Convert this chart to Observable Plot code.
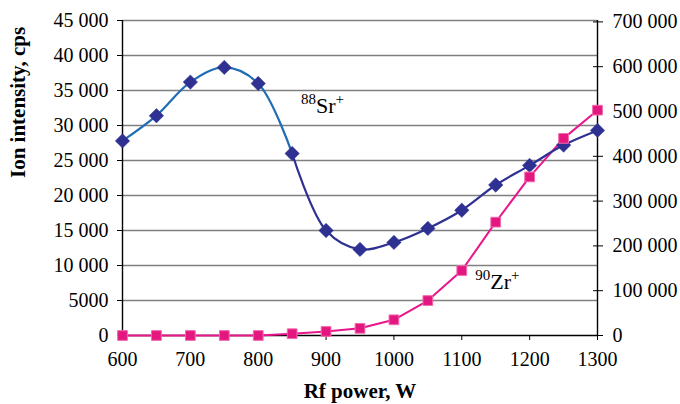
<!DOCTYPE html>
<html>
<head>
<meta charset="utf-8">
<script src="https://cdn.jsdelivr.net/npm/d3@7"></script>
<script src="https://cdn.jsdelivr.net/npm/@observablehq/plot@0.6"></script>
<style>
  html, body { margin: 0; padding: 0; background: #fff; }
  #chart { width: 680px; height: 404px; }
</style>
</head>
<body>
<div id="chart"></div>
<script>
// ---- data ----
const power = [600, 650, 700, 750, 800, 850, 900, 950, 1000, 1050, 1100, 1150, 1200, 1250, 1300];
const sr88 = [27800, 31400, 36200, 38300, 36000, 26000, 15000, 12300, 13300, 15300, 17900, 21500, 24300, 27200, 29300];
const zr90 = [0, 0, 0, 0, 0, 4000, 9000, 16000, 35000, 78000, 145000, 253000, 354000, 440000, 503000];
const xTicks = [600, 700, 800, 900, 1000, 1100, 1200, 1300];
const leftTicks = [0, 5000, 10000, 15000, 20000, 25000, 30000, 35000, 40000, 45000];
const rightTicks = [0, 100000, 200000, 300000, 400000, 500000, 600000, 700000];
const srLabel = {x: 863, y: 32800, sup: "88", main: "Sr", ion: "+"};
const zrLabel = {x: 1120, y: 7600, sup: "90", main: "Zr", ion: "+"};

// right axis (Zr) mapped onto left-axis units
const k = 0.064;
const fmt = v => v >= 10000 ? d3.format(",")(v).replace(/,/g, " ") : String(v);

const sr = power.map((p, i) => ({p, v: sr88[i]}));
const zr = power.map((p, i) => ({p, v: zr90[i] * k}));
const srA = sr.filter(d => d.p <= 850);
const srB = sr.filter(d => d.p >= 850);

const font = "Liberation Serif, Times New Roman, serif";

const chart = Plot.plot({
  width: 680,
  height: 404,
  marginLeft: 122,
  marginRight: 83,
  marginTop: 20,
  marginBottom: 69,
  style: {fontFamily: font, fontSize: "20px", color: "#000", background: "#fff"},
  x: {domain: [600, 1300]},
  y: {domain: [0, 45000]},
  marks: [
    Plot.ruleY(leftTicks.filter(d => d > 0), {stroke: "#7f7f7f", strokeWidth: 1.4}),
    Plot.ruleX([600, 1300], {stroke: "#000", strokeWidth: 1.4}),
    Plot.ruleY([0], {stroke: "#000", strokeWidth: 1.4}),
    Plot.axisY({ticks: leftTicks, tickFormat: fmt, tickSize: 5, tickPadding: 9, label: null, stroke: "#000"}),
    Plot.axisY({anchor: "right", ticks: rightTicks.map(v => v * k), tickFormat: d => fmt(Math.round(d / k / 1000) * 1000), tickSize: 5, tickPadding: 10, label: null}),
    Plot.axisY({anchor: "right", ticks: rightTicks.map(v => v * k), text: null, tickSize: 5, dx: -5, label: null}),
    Plot.axisX({ticks: xTicks, tickSize: 5, tickPadding: 11, label: null, tickFormat: d => String(d)}),
    Plot.line(zr, {x: "p", y: "v", stroke: "#e8168a", strokeWidth: 2}),
    Plot.line(srA, {x: "p", y: "v", stroke: "#1f6db3", strokeWidth: 2.2, curve: "catmull-rom"}),
    Plot.line(srB, {x: "p", y: "v", stroke: "#2e3192", strokeWidth: 2.2, curve: "catmull-rom"}),
    Plot.dot(sr, {x: "p", y: "v", symbol: "diamond2", r: 6.5, fill: "#2e3192", stroke: "#2e3192", strokeWidth: 0.5}),
    Plot.dot(zr, {x: "p", y: "v", symbol: "square", r: 5.5, fill: "#e3177f", stroke: "#f26aae", strokeWidth: 1}),
    Plot.text([srLabel], {x: "x", y: "y", text: d => d.main, textAnchor: "start", className: "ionlabel"}),
    Plot.text([zrLabel], {x: "x", y: "y", text: d => d.main, textAnchor: "start", className: "ionlabel"}),
    Plot.text(["Ion intensity, cps"], {frameAnchor: "left", rotate: -90, dx: -104, fontWeight: "bold", fontSize: 21}),
    Plot.text(["Rf power, W"], {frameAnchor: "bottom", dy: 62, fontWeight: "bold", fontSize: 21})
  ]
});

document.getElementById("chart").appendChild(chart);

// rich text for isotope labels (superscript mass number and charge)
const labs = [srLabel, zrLabel];
d3.select(chart).selectAll("g.ionlabel text").each(function(_, i) {
  const el = d3.select(this);
  const lab = labs[i];
  el.text(null).attr("font-size", 22);
  el.append("tspan").attr("font-size", 15).attr("dy", -9).text(lab.sup);
  el.append("tspan").attr("font-size", 22).attr("dy", 9).text(lab.main);
  el.append("tspan").attr("font-size", 15).attr("dy", -9).text(lab.ion);
});
</script>
</body>
</html>
